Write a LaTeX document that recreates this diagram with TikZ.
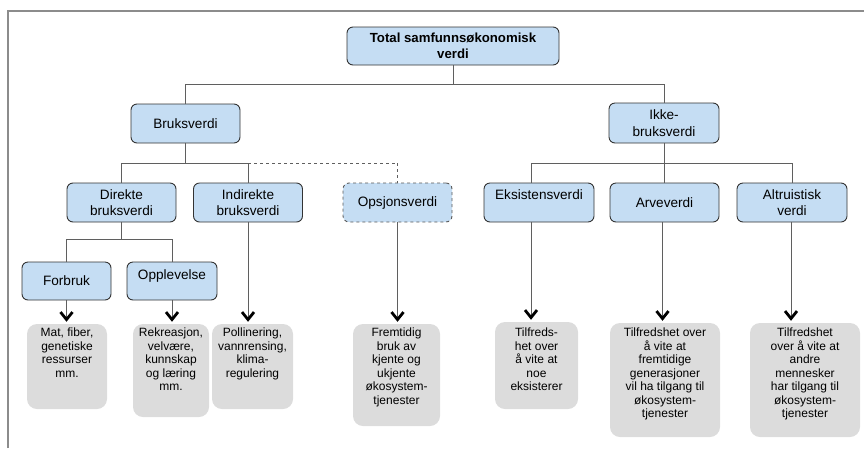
\documentclass[tikz,border=0pt]{standalone}
\usepackage{fontspec}
\setmainfont{Liberation Sans}
\usetikzlibrary{arrows.meta}
\definecolor{bluefill}{RGB}{197,221,243}
\definecolor{grayfill}{RGB}{220,220,220}
\definecolor{linegray}{RGB}{95,95,95}
\definecolor{framegray}{RGB}{140,140,140}
\tikzset{
  bluebox/.style={rectangle, rounded corners=6pt, draw=black!80, line width=0.9pt, fill=bluefill,
    align=center, font=\fontsize{13.6}{16.5}\selectfont, inner sep=2pt, minimum width=109pt, minimum height=39pt},
  smallblue/.style={bluebox, minimum width=90pt, minimum height=38pt},
  graybox/.style={rectangle, rounded corners=10pt, fill=grayfill, draw=none, inner sep=0pt},
  graytext/.style={align=center, font=\fontsize{12}{13.5}\selectfont, inner sep=0pt, anchor=north},
  conn/.style={draw=linegray, line width=0.8pt},
  arr/.style={draw=linegray, line width=0.8pt, shorten >=2pt,
    -{Straight Barb[length=7.5pt,width=12pt,line width=2.8pt,color=black]}},
  framestyle/.style={draw=framegray, line width=1.4pt}
}
\begin{document}
\begin{tikzpicture}[x=1pt,y=-1pt]
\useasboundingbox (0,0) rectangle (864,448);
\draw[framestyle] (8,448) -- (8,11) -- (864,11);

% blue nodes
\node[bluebox, minimum width=212pt, minimum height=38pt, font=\fontsize{13.2}{16}\selectfont\bfseries] (total) at (453,46) {Total samfunnsøkonomisk\\verdi};
\node[bluebox] (brk) at (185.5,123.5) {Bruksverdi};
\node[bluebox, minimum width=110pt, minimum height=40pt] (ikke) at (664,123) {Ikke-\\bruksverdi};
\node[bluebox] (dir) at (121.5,202.5) {Direkte\\bruksverdi};
\node[bluebox] (ind) at (248,202.5) {Indirekte\\bruksverdi};
\node[bluebox, dashed, draw=black!65] (ops) at (397.5,202.5) {Opsjonsverdi};
\node[bluebox, minimum width=110pt, text height=9pt, text depth=15pt] (eks) at (539,202.5) {Eksistensverdi};
\node[bluebox] (arv) at (664.5,202.5) {Arveverdi};
\node[bluebox, minimum width=110pt] (alt) at (792,202.5) {Altruistisk\\verdi};
\node[smallblue, minimum width=89pt] (fb) at (66.5,281) {Forbruk};
\node[smallblue, text height=9pt, text depth=13pt] (opl) at (172,281) {Opplevelse};

% gray boxes
\node[graybox, minimum width=80pt, minimum height=85pt] (g1) at (67,366.5) {};
\node[graybox, minimum width=76pt, minimum height=93pt] (g2) at (171,370.5) {};
\node[graybox, minimum width=81pt, minimum height=85pt] (g3) at (252.5,366.5) {};
\node[graybox, minimum width=87pt, minimum height=102pt] (g4) at (396.5,375) {};
\node[graybox, minimum width=83pt, minimum height=87pt] (g5) at (536.5,365.5) {};
\node[graybox, minimum width=110pt, minimum height=114pt] (g6) at (665,380) {};
\node[graybox, minimum width=110pt, minimum height=114pt] (g7) at (805,380) {};

\node[graytext] (t1) at ([yshift=-4pt]g1.north) {Mat, fiber,\\genetiske\\ressurser\\mm.};
\node[graytext] (t2) at ([yshift=-4pt]g2.north) {Rekreasjon,\\velvære,\\kunnskap\\og læring\\mm.};
\node[graytext] (t3) at ([yshift=-4pt]g3.north) {Pollinering,\\vannrensing,\\klima-\\regulering};
\node[graytext] (t4) at ([yshift=-4pt]g4.north) {Fremtidig\\bruk av\\kjente og\\ukjente\\økosystem-\\tjenester};
\node[graytext] (t5) at ([yshift=-6pt]g5.north) {Tilfreds-\\het over\\å vite at\\noe\\eksisterer};
\node[graytext] (t6) at ([yshift=-5pt]g6.north) {Tilfredshet over\\å vite at\\fremtidige\\generasjoner\\vil ha tilgang til\\økosystem-\\tjenester};
\node[graytext] (t7) at ([yshift=-5pt]g7.north) {Tilfredshet\\over å vite at\\andre\\mennesker\\har tilgang til\\økosystem-\\tjenester};

% tree connectors
\draw[conn] (total.south) -- ++(0,19) coordinate (j1);
\draw[conn] (brk.north) |- (j1) -| (ikke.north);
\draw[conn] (brk.south) -- ++(0,19.5) coordinate (j2);
\draw[conn] (dir.north) |- (j2) -| (ind.north);
\draw[conn, dashed] (ind.north |- j2) -| (ops.north);
\draw[conn] (ikke.south) -- ++(0,20) coordinate (j3);
\draw[conn] ([xshift=-8pt]eks.north) |- (j3) -| (alt.north);
\draw[conn] (j3) -- (j3 |- arv.north);
\draw[conn] (dir.south) -- ++(0,17) coordinate (j4);
\draw[conn] (fb.north) |- (j4) -| (opl.north);

% arrows to descriptions
\draw[arr] (fb.south) -- (fb.south |- g1.north);
\draw[arr] (opl.south) -- (opl.south |- g2.north);
\draw[arr] (ind.south) -- (ind.south |- g3.north);
\draw[arr] (ops.south) -- (ops.south |- g4.north);
\draw[arr] ([xshift=-8pt]eks.south) coordinate (e1) -- (e1 |- g5.north);
\draw[arr] ([xshift=-2pt]arv.south) coordinate (e2) -- (e2 |- g6.north);
\draw[arr] ([xshift=-1pt]alt.south) coordinate (e3) -- (e3 |- g7.north);
\end{tikzpicture}
\end{document}
